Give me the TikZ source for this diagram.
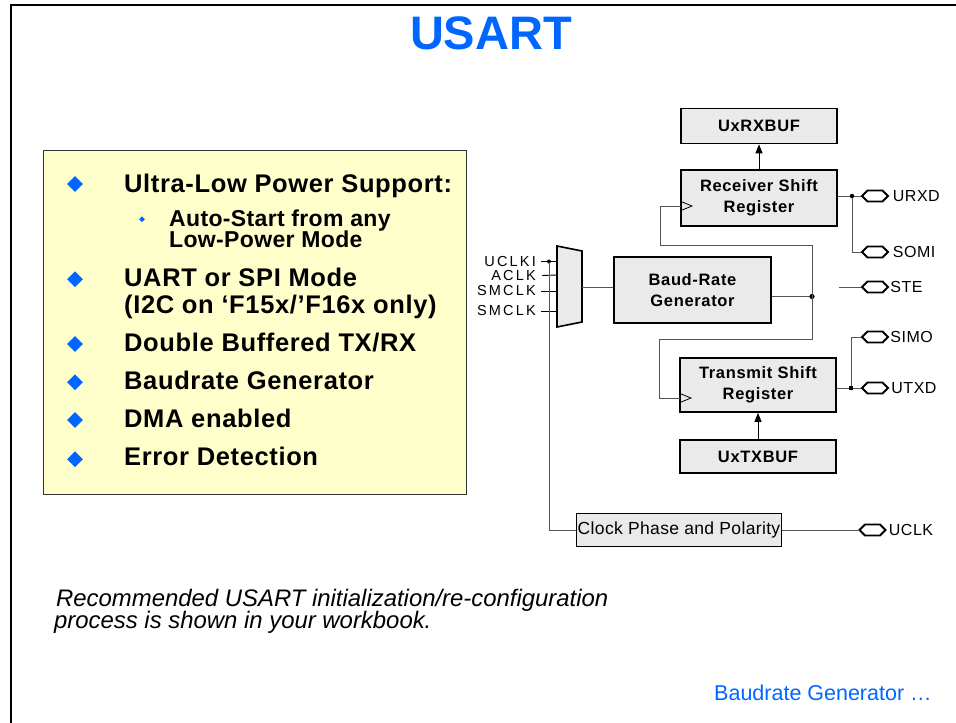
\documentclass[tikz,border=0pt]{standalone}
\usepackage{fontspec}
\setmainfont{Liberation Sans}
\usetikzlibrary{arrows.meta,shapes.symbols,shapes.geometric}
\definecolor{ttlblue}{RGB}{0,102,255}
\definecolor{boxgray}{RGB}{234,234,234}
\definecolor{paleyellow}{RGB}{255,255,204}
\definecolor{wiregray}{RGB}{85,85,85}
\newcommand\fsz[2]{\fontsize{#1}{#2}\selectfont}
\newcommand\lsp[1]{\addfontfeature{LetterSpace=#1}}
\begin{document}
\begin{tikzpicture}[x=1pt,y=-1pt,
  blk/.style={draw, line width=1.6pt, fill=boxgray, align=center, inner sep=0pt, font=\bfseries\fsz{16.5}{21}\lsp{4}},
  wire/.style={draw=wiregray, line width=1pt},
  inwire/.style={draw=black, line width=0.9pt},
  pin/.style={signal, signal to=east and west, draw, line width=1.8pt, minimum width=26pt, minimum height=11pt, inner sep=0pt, fill=white},
  pinlbl/.style={anchor=west, inner sep=0pt, font=\fsz{16}{18}\lsp{3}},
  clklbl/.style={anchor=east, inner sep=0pt, font=\fsz{14.5}{15}\lsp{15}},
  bigbul/.style={diamond, fill=ttlblue, minimum size=16pt, inner sep=0pt},
  smallbul/.style={diamond, fill=ttlblue, minimum size=6pt, inner sep=0pt},
  feat/.style={anchor=base west, inner sep=0pt, font=\bfseries\fsz{25.5}{28}\lsp{2.5}},
  subfeat/.style={anchor=base west, inner sep=0pt, font=\bfseries\fsz{23}{25}\lsp{1.5}},
  clkarrow/.style={draw=black, line width=0.8pt}
]
\useasboundingbox (0,0) rectangle (956,723);

% frame
\draw[line width=2.5pt] (11,723) -- (11,5) -- (956,5);

% title
\node[font=\bfseries\fsz{47}{50}, text=ttlblue, inner sep=0pt] (title) at (491,33.5) {USART};

% feature box
\node[draw=black!80, line width=1.5pt, fill=paleyellow, minimum width=423pt, minimum height=344pt, inner sep=0pt, anchor=north west] (featbox) at (42.5,149.5) {};

\node[bigbul] (b1) at (75,184) {};
\node[feat] (t1) at (124,192.3) {Ultra-Low Power Support:};
\node[smallbul] (b1s) at (142,219.3) {};
\node[subfeat] (t1a) at (169,226) {Auto-Start from any};
\node[subfeat] (t1b) at (169,247.3) {Low-Power Mode};
\node[bigbul] (b2) at (75,279.3) {};
\node[feat] (t2a) at (124,286.7) {UART or SPI Mode};
\node[feat] (t2b) at (124,313.3) {(I2C on ‘F15x/’F16x only)};
\node[bigbul] (b3) at (75,344) {};
\node[feat] (t3) at (124,351.7) {Double Buffered TX/RX};
\node[bigbul] (b4) at (75,382.3) {};
\node[feat] (t4) at (124,389.3) {Baudrate Generator};
\node[bigbul] (b5) at (75,420) {};
\node[feat] (t5) at (124,427.3) {DMA enabled};
\node[bigbul] (b6) at (75,459.3) {};
\node[feat] (t6) at (124,465.7) {Error Detection};

% diagram blocks
\node[blk, minimum width=156pt, minimum height=35pt] (rxbuf) at (759,126) {UxRXBUF};
\node[blk, minimum width=156pt, minimum height=56pt] (rsr) at (759,198) {Receiver Shift\\Register};
\node[blk, minimum width=157pt, minimum height=66pt] (baud) at (692.5,290) {Baud-Rate\\Generator};
\node[blk, minimum width=156pt, minimum height=54pt] (tsr) at (758,385) {Transmit Shift\\Register};
\node[blk, minimum width=156pt, minimum height=33pt] (txbuf) at (758,456.5) {UxTXBUF};
\node[blk, font=\fsz{17.5}{19}\lsp{2}, minimum width=205pt, minimum height=33pt] (cpp) at (679,530) {Clock Phase and Polarity};

% mux
\draw[line width=1.6pt, fill=boxgray] (557,246) -- (582,251) -- (582,322) -- (557,327) -- cycle;
\coordinate (muxout) at (582,287);
\coordinate (in1) at (557,261.5);
\coordinate (in2) at (557,275);
\coordinate (in3) at (557,291);
\coordinate (in4) at (557,311);
\node[clklbl] (l1) at (536,261.5) {UCLKI};
\node[clklbl] (l2) at (536,275.5) {ACLK};
\node[clklbl] (l3) at (536,291) {SMCLK};
\node[clklbl] (l4) at (536,311) {SMCLK};
\draw[inwire] ([xshift=5pt]l1.east) -- (in1);
\draw[inwire] (l2.east -| in1) ++(-15,0) -- (in2);
\draw[inwire] ([xshift=5pt]l3.east) -- (in3);
\draw[inwire] ([xshift=5pt]l4.east) -- (in4);
\coordinate (uclkij) at (549,261.5);
\fill (uclkij) circle (2pt);
\draw[wire] (uclkij) |- (cpp.west);
\draw[wire] (muxout) -- (muxout -| baud.west);

% baud output and clock distribution
\coordinate (junc) at (812,296.5);
\draw[wire] (junc -| baud.east) -- (junc);
\fill (junc) circle (2.6pt);
\coordinate (rsrclk) at (681,206);
\coordinate (tsrclk) at (680,398);
\draw[wire] (rsrclk) -- (660,206) -- (660,245.5) -- (812,245.5) -- (812,339) -- (659,339) -- (659,398) -- (tsrclk);
\draw[clkarrow] (681,201.5) -- (692,206) -- (681,210.5);
\draw[clkarrow] (680,393.5) -- (691,398) -- (680,402.5);

% buffer arrows
\draw[line width=1pt, -{Triangle[length=9pt,width=7pt]}] (rsr.north) -- (rxbuf.south);
\draw[line width=1pt, -{Triangle[length=9pt,width=7pt]}] (txbuf.north) -- (tsr.south);

% pins
\node[pin] (urxd) at (875,196) {};
\node[pin] (somi) at (875,252) {};
\node[pin] (ste) at (875,287) {};
\node[pin] (simo) at (875,337) {};
\node[pin] (utxd) at (875,388) {};
\node[pin] (uclk) at (872.5,530) {};
\node[pinlbl] (urxdl) at ([xshift=3.5pt]urxd.east) {URXD};
\node[pinlbl] (somil) at ([xshift=3.5pt]somi.east) {SOMI};
\node[pinlbl] (stel) at ([xshift=1pt]ste.east) {STE};
\node[pinlbl] (simol) at ([xshift=1pt]simo.east) {SIMO};
\node[pinlbl] (utxdl) at ([xshift=2pt]utxd.east) {UTXD};
\node[pinlbl] (uclkl) at ([xshift=2pt]uclk.east) {UCLK};

\coordinate (rxj) at (852,196);
\draw[wire] (rxj -| rsr.east) -- (urxd.west);
\draw[wire] (rxj) |- (somi.west);
\fill (rxj) circle (2.2pt);
\coordinate (stefree) at (839,287);
\draw[wire] (stefree) -- (ste.west);
\coordinate (txj) at (851,388);
\draw[wire] (txj -| tsr.east) -- (utxd.west);
\draw[wire] (txj) |- (simo.west);
\node[fill, minimum size=4.5pt, inner sep=0pt] (txjdot) at (txj) {};
\draw[wire] (cpp.east) -- (uclk.west);

% notes
\node[anchor=base west, inner sep=0pt, font=\itshape\fsz{23.9}{25}] (note1) at (56,606) {Recommended USART initialization/re-configuration};
\node[anchor=base west, inner sep=0pt, font=\itshape\fsz{23.9}{25}] (note2) at (54,628) {process is shown in your workbook.};
\node[anchor=base west, inner sep=0pt, font=\fsz{21.5}{23}, text=ttlblue] (next) at (714,700) {Baudrate Generator …};
\end{tikzpicture}
\end{document}
